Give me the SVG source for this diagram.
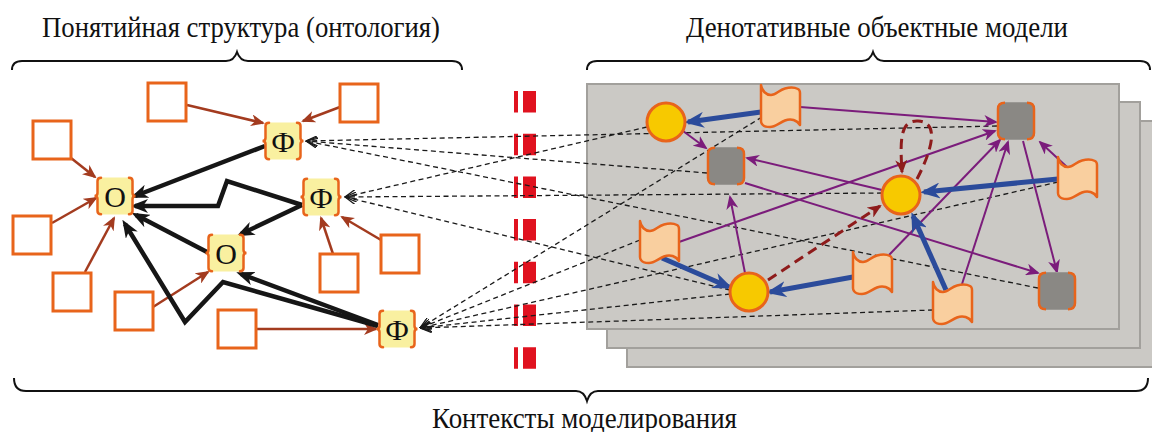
<svg xmlns="http://www.w3.org/2000/svg" width="1152" height="432" viewBox="0 0 1152 432">
  <style>
    .title { font-family: "Liberation Serif", "Times New Roman", serif; font-size: 30px; fill: #111; }
    .lbl { font-family: "Liberation Serif", "Times New Roman", serif; font-size: 30px; fill: #111; text-anchor: middle; }
    .brace { fill: none; stroke: #111; stroke-width: 2; }
    .sq { fill: #fff; stroke: #e8641b; stroke-width: 3; }
    .ybox { fill: #f9f0a0; }
    .ybr { fill: none; stroke: #e8641b; stroke-width: 2.5; stroke-linecap: round; }
    .panel { fill: #cbc9c5; stroke: #a2a09c; stroke-width: 2; }
    .gbox { fill: #8a8884; stroke: #9a9894; stroke-width: 1; }
    .gbr { fill: none; stroke: #e8641b; stroke-width: 2.5; }
    .circ { fill: #f7c900; stroke: #e8641b; stroke-width: 3; }
    .flag { fill: #f9cf9f; stroke: #e8641b; stroke-width: 2.5; stroke-linejoin: round; }
    .brown { fill: none; stroke: #a33b1f; stroke-width: 2.5; marker-end: url(#mBrown); }
    .black { fill: none; stroke: #161616; stroke-width: 4.5; stroke-linejoin: miter; marker-end: url(#mBlack); }
    .ref { fill: none; stroke: #1a1a1a; stroke-width: 1.3; stroke-dasharray: 5 3.5; marker-end: url(#mFan); }
    .purple { fill: none; stroke: #7b1c7b; stroke-width: 2; marker-end: url(#mPurple); }
    .blue { fill: none; stroke: #2b4b9b; stroke-width: 5; marker-end: url(#mBlue); }
    .maroon { fill: none; stroke: #8e1b1b; stroke-width: 3; stroke-dasharray: 10 6; marker-end: url(#mMaroon); }
    .sep { fill: none; stroke: #e0121f; stroke-dasharray: 21.5 21.2; }
  </style>
  <defs>
    <marker id="mBrown" viewBox="0 0 14 12" refX="12" refY="6" markerWidth="14" markerHeight="12" markerUnits="userSpaceOnUse" orient="auto">
      <path d="M0,0 L14,6 L0,12 L4,6 Z" fill="#a33b1f"/>
    </marker>
    <marker id="mBlack" viewBox="0 0 18 14" refX="13" refY="7" markerWidth="18" markerHeight="14" markerUnits="userSpaceOnUse" orient="auto">
      <path d="M0,0 L18,7 L0,14 L5,7 Z" fill="#161616"/>
    </marker>
    <marker id="mPurple" viewBox="0 0 14 12" refX="12" refY="6" markerWidth="14" markerHeight="12" markerUnits="userSpaceOnUse" orient="auto">
      <path d="M0,0 L14,6 L0,12 L4,6 Z" fill="#7b1c7b"/>
    </marker>
    <marker id="mBlue" viewBox="0 0 20 16" refX="16" refY="8" markerWidth="20" markerHeight="16" markerUnits="userSpaceOnUse" orient="auto">
      <path d="M0,0 L20,8 L0,16 L6,8 Z" fill="#2b4b9b"/>
    </marker>
    <marker id="mMaroon" viewBox="0 0 14 12" refX="12" refY="6" markerWidth="14" markerHeight="12" markerUnits="userSpaceOnUse" orient="auto">
      <path d="M0,0 L14,6 L0,12 L4,6 Z" fill="#8e1b1b"/>
    </marker>
    <marker id="mFan" viewBox="0 0 12 10" refX="11.5" refY="5" markerWidth="12" markerHeight="10" markerUnits="userSpaceOnUse" orient="auto">
      <path d="M0,0 L11.5,5 L0,10" fill="none" stroke="#1a1a1a" stroke-width="1.3" stroke-dasharray="none"/>
    </marker>
    <!-- yellow concept box with curly side brackets, 38x38 -->
    <g id="conceptBox">
      <rect class="ybox" x="1.5" y="0.5" width="35" height="37" rx="2"/>
      <path class="ybr" d="M5,0.8 Q1.5,0.8 1.5,4 L1.5,16 Q1.5,19 -1.5,19 Q1.5,19 1.5,22 L1.5,34 Q1.5,37.2 5,37.2"/>
      <path class="ybr" d="M33,0.8 Q36.5,0.8 36.5,4 L36.5,16 Q36.5,19 39.5,19 Q36.5,19 36.5,22 L36.5,34 Q36.5,37.2 33,37.2"/>
    </g>
    <!-- gray object box with orange side edges -->
    <g id="objBox">
      <rect class="gbox" x="0.5" y="0.5" width="37" height="37" rx="6"/>
      <path class="gbr" d="M8,0.8 Q1,0.8 1,7 L1,31 Q1,37.2 8,37.2"/>
      <path class="gbr" d="M30,0.8 Q37,0.8 37,7 L37,31 Q37,37.2 30,37.2"/>
    </g>
    <!-- wavy document flag, 39x42 -->
    <path id="flagShape" class="flag" d="M0,0 C1,6 5,10 10,10 C15,10 18,5 24,3.5 C30,2 35,3 37,4 Q39,5 39,8 L39,40 C36,35 30,33 24,35.5 C18,38 14,42 9,42 C5,42 2,41 1,39 Q0,38 0,36 Z"/>
  </defs>

  <rect width="1152" height="432" fill="#fff"/>

  <!-- headings and braces -->
  <g id="headings">
    <text class="title" x="42" y="37" textLength="398" lengthAdjust="spacingAndGlyphs">Понятийная структура (онтология)</text>
    <path class="brace" d="M12,70 Q12,61 22,61 L226,61 Q234,61 237,52 Q240,61 248,61 L452,61 Q462,61 462,70"/>
    <text class="title" x="686" y="37" textLength="382" lengthAdjust="spacingAndGlyphs">Денотативные объектные модели</text>
    <path class="brace" d="M587,70 Q587,61 597,61 L862,61 Q870,61 873,52 Q876,61 884,61 L1140,61 Q1150,61 1150,70"/>
    <path class="brace" d="M14,378 Q14,391 26,391 L576,391 Q584,391 587,401 Q590,391 598,391 L1136,391 Q1148,391 1148,378"/>
    <text class="title" x="432" y="428" textLength="305" lengthAdjust="spacingAndGlyphs">Контексты моделирования</text>
  </g>

  <!-- separator between ontology and models -->
  <g id="separator">
    <line class="sep" x1="516" y1="91" x2="516" y2="369" stroke-width="4"/>
    <line class="sep" x1="529.5" y1="91" x2="529.5" y2="369" stroke-width="13"/>
  </g>

  <!-- stacked model sheets -->
  <g id="sheets">
    <rect class="panel" x="627" y="121" width="540" height="246"/>
    <rect class="panel" x="607" y="102" width="533" height="246"/>
    <rect class="panel" x="587" y="84" width="532" height="245"/>
  </g>

  <g id="connectors">
    <!-- reference links from model objects to concepts -->
    <g id="refs">
      <path class="ref" d="M997,126 L306,141"/>
      <path class="ref" d="M707,173 L306,141"/>
      <path class="ref" d="M1038,288 L306,141"/>
      <path class="ref" d="M647,127 L345,197"/>
      <path class="ref" d="M882,193 L345,197"/>
      <path class="ref" d="M730,290 L345,197"/>
      <path class="ref" d="M762,117 L420,328"/>
      <path class="ref" d="M640,240 L420,328"/>
      <path class="ref" d="M1058,182 L420,328"/>
      <path class="ref" d="M730,294 L420,328"/>
      <path class="ref" d="M933,310 L420,328"/>
    </g>
    <!-- attribute links in the ontology -->
    <g id="attr">
      <path class="brown" d="M187,105 L263,123"/>
      <path class="brown" d="M340,107 L303,121"/>
      <path class="brown" d="M71,158 L95,177"/>
      <path class="brown" d="M52,223 L96,198"/>
      <path class="brown" d="M85,272 L114,218"/>
      <path class="brown" d="M153,307 L208,272"/>
      <path class="brown" d="M256,329 L376,329"/>
      <path class="brown" d="M381,240 L342,217"/>
      <path class="brown" d="M333,254 L321,218"/>
    </g>
    <!-- relations between concepts -->
    <g id="rel">
      <path class="black" d="M265,146 L135,196"/>
      <path class="black" d="M302,205 L227,181 L218,206 L135,206"/>
      <path class="black" d="M302,205 L241,234"/>
      <path class="black" d="M207,252 L136,215"/>
      <path class="black" d="M378,326 L223,282 L185,322 L125,224"/>
      <path class="black" d="M378,325 L241,274"/>
    </g>
    <!-- model links -->
    <g id="links">
      <path class="purple" d="M683,131 L706,148"/>
      <path class="purple" d="M800,107 L996,122"/>
      <path class="purple" d="M679,242 L995,131"/>
      <path class="purple" d="M745,183 L1038,273"/>
      <path class="purple" d="M882,190 L747,158"/>
      <path class="purple" d="M745,273 L730,197"/>
      <path class="purple" d="M1067,167 L1040,142"/>
      <path class="purple" d="M889,255 L1000,140"/>
      <path class="purple" d="M962,284 L1008,142"/>
      <path class="purple" d="M1023,141 L1057,272"/>
      <path class="maroon" d="M768,280 L880,206"/>
      <path class="maroon" d="M917,179 C932,150 940,122 918,121 C900,120 900,140 902,172"/>
      <path class="blue" d="M761,112 L688,122"/>
      <path class="blue" d="M1058,179 L924,192"/>
      <path class="blue" d="M662,258 L729,287"/>
      <path class="blue" d="M853,277 L770,292"/>
      <path class="blue" d="M946,290 L913,216"/>
    </g>
  </g>

  <!-- ontology: attribute squares -->
  <g id="attributes">
    <rect id="a1" class="sq" x="148" y="83" width="38" height="38"/>
    <rect id="a2" class="sq" x="33" y="121" width="38" height="38"/>
    <rect id="a3" class="sq" x="13" y="216" width="38" height="38"/>
    <rect id="a4" class="sq" x="53" y="273" width="38" height="38"/>
    <rect id="a5" class="sq" x="115" y="292" width="38" height="38"/>
    <rect id="a6" class="sq" x="218" y="310" width="38" height="38"/>
    <rect id="a7" class="sq" x="340" y="84" width="38" height="38"/>
    <rect id="a8" class="sq" x="381" y="235" width="38" height="38"/>
    <rect id="a9" class="sq" x="320" y="254" width="38" height="38"/>
  </g>

  <!-- ontology: concepts -->
  <g id="o1" transform="translate(96,177)"><use href="#conceptBox"/><text class="lbl" x="19" y="30">О</text></g>
  <g id="o2" transform="translate(207,234)"><use href="#conceptBox"/><text class="lbl" x="19" y="30">О</text></g>
  <g id="f1" transform="translate(264,122)"><use href="#conceptBox"/><text class="lbl" x="19" y="30">Ф</text></g>
  <g id="f2" transform="translate(302,178)"><use href="#conceptBox"/><text class="lbl" x="19" y="30">Ф</text></g>
  <g id="f3" transform="translate(378,310)"><use href="#conceptBox"/><text class="lbl" x="19" y="30">Ф</text></g>

  <!-- model objects -->
  <circle id="c1" class="circ" cx="666" cy="122" r="19"/>
  <circle id="c2" class="circ" cx="901" cy="195" r="19"/>
  <circle id="c3" class="circ" cx="749" cy="292" r="19"/>
  <g id="g1" transform="translate(707,147)"><use href="#objBox"/></g>
  <g id="g2" transform="translate(997,102)"><use href="#objBox"/></g>
  <g id="g3" transform="translate(1038,272)"><use href="#objBox"/></g>
  <g id="d1" transform="translate(761,85)"><use href="#flagShape"/></g>
  <g id="d2" transform="translate(1058,157)"><use href="#flagShape"/></g>
  <g id="d3" transform="translate(640,221)"><use href="#flagShape"/></g>
  <g id="d4" transform="translate(853,252)"><use href="#flagShape"/></g>
  <g id="d5" transform="translate(933,282)"><use href="#flagShape"/></g>
</svg>
